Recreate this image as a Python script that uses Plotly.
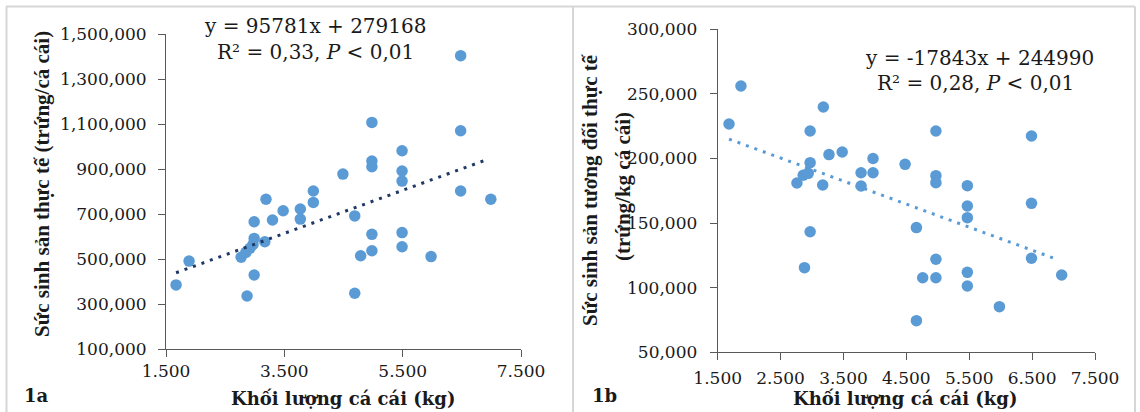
import plotly.graph_objects as go

W, H = 1140, 412

# ---- Data: panel 1a (actual fecundity vs female weight) ----
weight_a = [1.67, 1.89, 2.77, 2.87, 2.85, 2.92, 2.97, 2.99, 2.99, 2.99, 3.19, 3.17, 3.30, 3.48,
            3.77, 3.77, 3.99, 3.99, 4.49, 4.69, 4.69, 4.79, 4.98, 4.98, 4.98, 4.98, 4.98,
            5.49, 5.49, 5.49, 5.49, 5.49, 5.98, 6.48, 6.48, 6.48, 6.99]
fec_a = [385000, 491000, 508000, 336000, 530000, 548000, 565000, 592000, 666000, 429000, 766000,
         577000, 674000, 715000, 723000, 678000, 803000, 752000, 878000, 692000, 348000, 515000,
         1108000, 936000, 911000, 610000, 537000, 982000, 892000, 847000, 618000, 555000, 511000,
         1405000, 1071000, 803000, 766000]

# ---- Data: panel 1b (relative fecundity vs female weight) ----
weight_b = [1.68, 1.87, 2.76, 2.86, 2.94, 2.88, 2.97, 2.97, 2.97, 3.18, 3.17, 3.27, 3.48, 3.78,
            3.78, 3.97, 3.97, 4.48, 4.66, 4.66, 4.76, 4.97, 4.97, 4.97, 4.97, 4.97, 5.47, 5.47,
            5.47, 5.47, 5.47, 5.98, 6.49, 6.49, 6.49, 6.97]
fec_b = [226700, 256100, 181000, 187000, 188500, 115500, 221300, 196800, 143300, 239900, 179500,
         203000, 205000, 189000, 178700, 200000, 189000, 195500, 146500, 74500, 107700, 221300,
         186700, 181300, 122000, 107700, 179000, 163200, 154200, 111900, 101300, 85300, 217400,
         165300, 122800, 109800]

# Trend lines (coefficients from the chart's equations, x extent of the fitted line)
slope_a, intercept_a = 95781, 279168
slope_b, intercept_b = -17843, 244990
trend_x_a = [1.67, 6.93]
trend_x_b = [1.68, 6.90]

eq_a = ["y = 95781x + 279168", "R² = 0,33, <i>P</i> < 0,01"]
eq_b = ["y = -17843x + 244990", "R² = 0,28, <i>P</i> < 0,01"]

x_title = "Khối lượng cá cái (kg)"
y_title_a = "Sức sinh sản thực tế (trứng/cá cái)"
y_title_b = ["Sức sinh sản tương đối thực tế", "(trứng/kg cá cái)"]

MARK = "#5B9BD5"
AX = "#595959"
TICKFONT = dict(family="DejaVu Serif", size=17, color="#1a1a1a")

fig = go.Figure()
fig.add_trace(go.Scatter(x=weight_a, y=fec_a, mode="markers", xaxis="x", yaxis="y",
                         marker=dict(color=MARK, size=11.5, line=dict(width=0)), showlegend=False))
fig.add_trace(go.Scatter(x=trend_x_a, y=[slope_a * v + intercept_a for v in trend_x_a], mode="lines",
                         xaxis="x", yaxis="y", line=dict(color="#1F3864", width=3, dash="3px,6px"),
                         showlegend=False))
fig.add_trace(go.Scatter(x=weight_b, y=fec_b, mode="markers", xaxis="x2", yaxis="y2",
                         marker=dict(color=MARK, size=11.5, line=dict(width=0)), showlegend=False))
fig.add_trace(go.Scatter(x=trend_x_b, y=[slope_b * v + intercept_b for v in trend_x_b], mode="lines",
                         xaxis="x2", yaxis="y2", line=dict(color=MARK, width=3, dash="3px,6px"),
                         showlegend=False))

def px_x(p):
    return p / W

def px_y(p):
    return 1 - p / H

axis_common = dict(showgrid=False, zeroline=False, showline=True, linecolor=AX, linewidth=1,
                   ticks="outside", ticklen=7, tickcolor=AX, tickwidth=1, tickfont=TICKFONT,
                   automargin=False, fixedrange=True)

fig.update_layout(
    width=W, height=H, template="none",
    margin=dict(l=0, r=0, t=0, b=0),
    paper_bgcolor="white", plot_bgcolor="white",
    xaxis=dict(domain=[px_x(166), px_x(521)], range=[1.5, 7.5], dtick=2, tick0=1.5,
               tickformat=".3f", anchor="y", ticklabelstandoff=0, **axis_common),
    yaxis=dict(domain=[px_y(349), px_y(34.3)], range=[100000, 1500000], dtick=200000, tick0=100000,
               tickformat=",", anchor="x", ticklabelstandoff=8, **axis_common),
    xaxis2=dict(domain=[px_x(717.7), px_x(1095)], range=[1.5, 7.5], dtick=1, tick0=1.5,
                tickformat=".3f", anchor="y2", ticklabelstandoff=3, **axis_common),
    yaxis2=dict(domain=[px_y(352.3), px_y(29.3)], range=[50000, 300000], dtick=50000, tick0=50000,
                tickformat=",", anchor="x2", ticklabelstandoff=9, **axis_common),
)

ann = []
EQF = dict(family="DejaVu Serif", size=20, color="#1a1a1a")
ann.append(dict(x=px_x(316), y=px_y(26), text=eq_a[0], font=EQF))
ann.append(dict(x=px_x(315), y=px_y(52), text=eq_a[1], font=EQF))
ann.append(dict(x=px_x(979), y=px_y(58), text=eq_b[0], font=EQF))
ann.append(dict(x=px_x(975), y=px_y(83), text=eq_b[1], font=EQF))

TF = dict(family="DejaVu Serif", size=18, color="#1a1a1a", weight="bold")
ann.append(dict(x=px_x(343), y=px_y(398), text=x_title, font=TF))
ann.append(dict(x=px_x(905), y=px_y(398), text=x_title, font=TF))
ann.append(dict(x=px_x(37), y=px_y(395), text="1a", font=TF))
ann.append(dict(x=px_x(604), y=px_y(395), text="1b", font=TF))

YF = dict(family="Liberation Serif", size=21, color="#1a1a1a", weight="bold")
ann.append(dict(x=px_x(42), y=px_y(184), text=y_title_a, font=YF, textangle=-90))
ann.append(dict(x=px_x(590), y=px_y(190), text=y_title_b[0], font=YF, textangle=-90))
ann.append(dict(x=px_x(623), y=px_y(187), text=y_title_b[1], font=YF, textangle=-90))

for a in ann:
    a.update(xref="paper", yref="paper", showarrow=False, xanchor="center", yanchor="middle")
fig.update_layout(annotations=ann)

BORDER = "#d6d6d6"
shapes = [
    dict(type="line", xref="paper", yref="paper", x0=px_x(6), x1=px_x(1135), y0=px_y(6.5), y1=px_y(6.5),
         line=dict(color=BORDER, width=2)),
    dict(type="line", xref="paper", yref="paper", x0=px_x(6.5), x1=px_x(6.5), y0=0, y1=px_y(6.5),
         line=dict(color=BORDER, width=2)),
    dict(type="line", xref="paper", yref="paper", x0=px_x(573), x1=px_x(573), y0=0, y1=px_y(6.5),
         line=dict(color=BORDER, width=2)),
    dict(type="line", xref="paper", yref="paper", x0=px_x(1135), x1=px_x(1135), y0=0, y1=px_y(6.5),
         line=dict(color=BORDER, width=2)),
]
fig.update_layout(shapes=shapes)

fig.write_html("out.html", config={"displayModeBar": False},
               post_script="document.body.style.margin='0';document.body.style.overflow='hidden';")
